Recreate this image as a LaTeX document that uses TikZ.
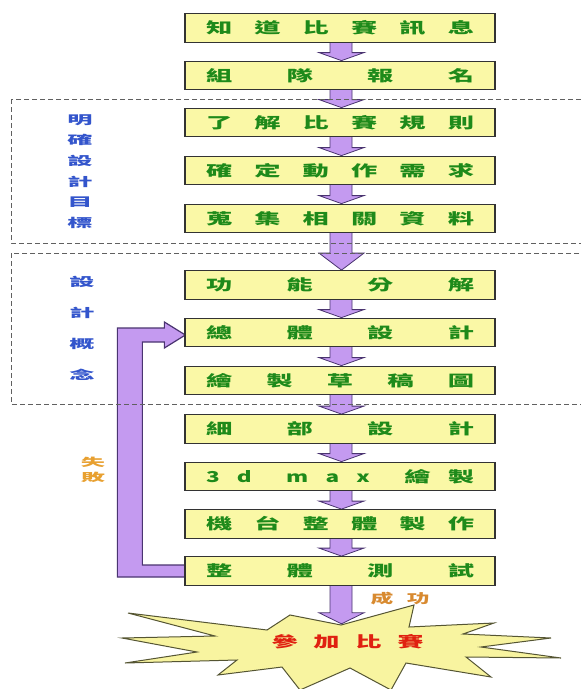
\documentclass[tikz,border=0pt]{standalone}
\usepackage{graphicx}
\usepackage{fontspec}
\newfontfamily\cjk{Noto Sans CJK TC}
\usetikzlibrary{calc}
\pgfdeclarelayer{bg}\pgfdeclarelayer{mid}\pgfsetlayers{bg,mid,main}
\definecolor{boxfill}{HTML}{FAF8A6}
\definecolor{boxline}{HTML}{333333}
\definecolor{boxtext}{HTML}{1E8A1A}
\definecolor{arrowfill}{HTML}{C49AF0}
\definecolor{arrowline}{HTML}{4A3470}
\definecolor{labblue}{HTML}{3355CC}
\definecolor{failor}{HTML}{E8A030}
\definecolor{succor}{HTML}{D88A30}
\definecolor{goalred}{HTML}{E02010}
\definecolor{starfill}{HTML}{F8F4A0}
\definecolor{starline}{HTML}{555533}
\definecolor{dashgray}{HTML}{606060}
\newcommand{\wch}[2][1.75]{\scalebox{#1}[1]{#2}}
\newcommand{\spr}[1]{\makebox[268pt][s]{#1}}
\newcommand{\blockarrow}[3]{%
  \filldraw[fill=arrowfill, draw=arrowline, line width=0.8pt]
    ($(#1.south)+(-10,-3)$) -- ($(#2.north)+(-10,-#3)$) -- ($(#2.north)+(-21,-#3)$)
    -- ($(#2.north)+(1.5,0)$) -- ($(#2.north)+(24,-#3)$) -- ($(#2.north)+(12,-#3)$)
    -- ($(#1.south)+(12,-3)$) -- cycle;}
\begin{document}
\begin{tikzpicture}[x=1pt,y=-1pt,
  stepbox/.style={draw=boxline, line width=1.3pt, fill=boxfill,
    minimum width=310pt, minimum height=28.5pt, inner sep=0pt,
    font=\cjk\bfseries\fontsize{15}{15}\selectfont, text=boxtext},
  sidelab/.style={align=center, text=labblue, inner sep=0pt,
    font=\cjk\bfseries\fontsize{12}{#1}\selectfont},
  dashframe/.style={draw=dashgray, line width=0.8pt, dash pattern=on 5pt off 3pt}]
\useasboundingbox (0,0) rectangle (581,689);

% boxes
\node[stepbox] (b1) at (340,28) {\spr{\wch{知}\hfill\wch{道}\hfill\wch{比}\hfill\wch{賽}\hfill\wch{訊}\hfill\wch{息}}};
\node[stepbox] (b2) at (340,75.5) {\spr{\wch{組}\hfill\wch{隊}\hfill\wch{報}\hfill\wch{名}}};
\node[stepbox] (b3) at (340,122.5) {\spr{\wch{了}\hfill\wch{解}\hfill\wch{比}\hfill\wch{賽}\hfill\wch{規}\hfill\wch{則}}};
\node[stepbox] (b4) at (340,170.5) {\spr{\wch{確}\hfill\wch{定}\hfill\wch{動}\hfill\wch{作}\hfill\wch{需}\hfill\wch{求}}};
\node[stepbox] (b5) at (340,218.5) {\spr{\wch{蒐}\hfill\wch{集}\hfill\wch{相}\hfill\wch{關}\hfill\wch{資}\hfill\wch{料}}};
\node[stepbox] (b6) at (340,285) {\spr{\wch{功}\hfill\wch{能}\hfill\wch{分}\hfill\wch{解}}};
\node[stepbox] (b7) at (340,332.5) {\spr{\wch{總}\hfill\wch{體}\hfill\wch{設}\hfill\wch{計}}};
\node[stepbox] (b8) at (340,380.5) {\spr{\wch{繪}\hfill\wch{製}\hfill\wch{草}\hfill\wch{稿}\hfill\wch{圖}}};
\node[stepbox] (b9) at (340,429) {\spr{\wch{細}\hfill\wch{部}\hfill\wch{設}\hfill\wch{計}}};
\node[stepbox] (b10) at (340,476.5) {\spr{\wch[1.5]{3}\hfill\wch[1.5]{d}\hfill\hfill\wch[1.5]{m}\hfill\wch[1.5]{a}\hfill\wch[1.5]{x}\hfill\hfill\wch{繪}\hfill\wch{製}}};
\node[stepbox] (b11) at (340,524) {\spr{\wch{機}\hfill\wch{台}\hfill\wch{整}\hfill\wch{體}\hfill\wch{製}\hfill\wch{作}}};
\node[stepbox] (b12) at (340,571) {\spr{\wch{整}\hfill\wch{體}\hfill\wch{測}\hfill\wch{試}}};

% side labels
\node[sidelab=20.6] (lab1) at (80,171.5) {\wch[2.1]{明}\\\wch[2.1]{確}\\\wch[2.1]{設}\\\wch[2.1]{計}\\\wch[2.1]{目}\\\wch[2.1]{標}};
\node[sidelab=31] (lab2) at (82,328.5) {\wch[2.1]{設}\\\wch[2.1]{計}\\\wch[2.1]{概}\\\wch[2.1]{念}};
\node[align=center, text=failor, inner sep=0pt, font=\cjk\bfseries\fontsize{11}{15}\selectfont] (fail) at (93,470) {\wch[2.2]{失}\\\wch[2.2]{敗}};
\node[text=succor, inner sep=0pt, font=\cjk\bfseries\fontsize{13}{13}\selectfont] (succ) at (400,599) {\makebox[59pt][s]{\wch{成}\hfill\wch{功}}};

% goal star
\node[text=goalred, inner sep=0pt, font=\cjk\bfseries\fontsize{15}{15}\selectfont] (goal) at (347.5,642) {\makebox[152pt][s]{\wch{參}\hfill\wch{加}\hfill\wch{比}\hfill\wch{賽}}};
\node[inner sep=0pt, minimum size=0pt] (sb) at (340,624) {};

\begin{pgfonlayer}{bg}
  \fill[white] (0,0) rectangle (581,689);
  \filldraw[fill=starfill, draw=starline, line width=1pt, line join=miter]
    (128,613) -- (267,630) -- (290,615) -- (341,625) -- (414,605) -- (409,627)
    -- (494,623) -- (463,634) -- (551,638) -- (481,647) -- (561,658) -- (466,657)
    -- (491,677) -- (406,663) -- (391,690) -- (350,668) -- (300,690) -- (282,667)
    -- (218,675) -- (237,660) -- (125,663) -- (197,652) -- (122,638) -- (215,636) -- cycle;
  \blockarrow{b1}{b2}{8}
  \blockarrow{b2}{b3}{8}
  \blockarrow{b3}{b4}{8}
  \blockarrow{b4}{b5}{8}
  \blockarrow{b5}{b6}{17}
  \blockarrow{b6}{b7}{8}
  \blockarrow{b7}{b8}{8}
  \blockarrow{b8}{b9}{8}
  \blockarrow{b9}{b10}{8}
  \blockarrow{b10}{b11}{8}
  \blockarrow{b11}{b12}{8}
  \blockarrow{b12}{sb}{11}
  % feedback arrow
  \filldraw[fill=arrowfill, draw=arrowline, line width=1.2pt]
    ($(b12.west)+(3,6)$) -- ($(b12.west)+(-67,6)$) -- ($(b7.west)+(-67,-4.5)$)
    -- ($(b7.west)+(-20,-4.5)$) -- ($(b7.west)+(-20,-10.5)$) -- ($(b7.west)+(1,2.5)$)
    -- ($(b7.west)+(-20,15.5)$) -- ($(b7.west)+(-20,9.5)$) -- ($(b7.west)+(-42,9.5)$)
    -- ($(b12.west)+(-42,-6)$) -- ($(b12.west)+(3,-6)$) -- cycle;
\end{pgfonlayer}
\begin{pgfonlayer}{mid}
  \draw[dashframe] (11,99) rectangle (600,243);
  \draw[dashframe] (11,253) rectangle (600,404);
\end{pgfonlayer}
\end{tikzpicture}
\end{document}
